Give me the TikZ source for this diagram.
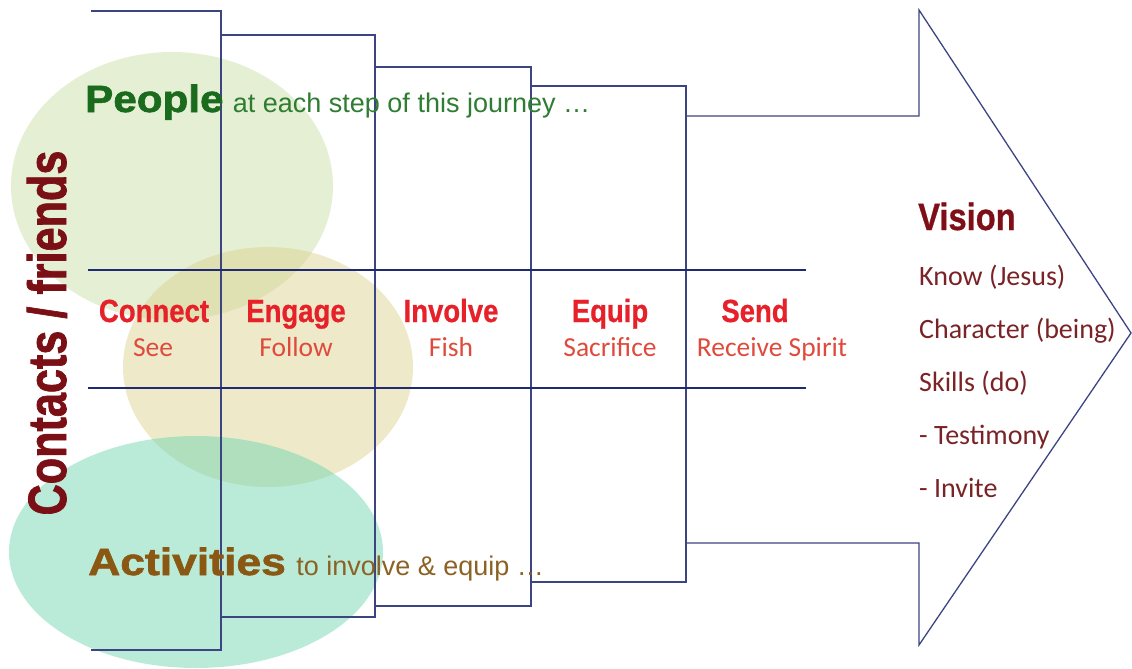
\documentclass[tikz,border=0pt]{standalone}
\usepackage{fontspec}
\usepackage{graphicx}
\setmainfont{Liberation Sans}
\newfontfamily\calfont{Carlito}
\newfontfamily\heavyfont[FakeBold=1.5]{Liberation Sans Bold}
\newfontfamily\punchfont[FakeBold=0.8]{Liberation Sans Bold}
\usetikzlibrary{positioning}
\definecolor{stepcol}{HTML}{3D4482}
\definecolor{gridcol}{HTML}{1F2A70}
\definecolor{peoplegreen}{HTML}{1B6B1E}
\definecolor{notegreen}{HTML}{2F7D32}
\definecolor{actbrown}{HTML}{8A5812}
\definecolor{notebrown}{HTML}{8C6224}
\definecolor{contactred}{HTML}{7A0F15}
\definecolor{headred}{HTML}{E6212A}
\definecolor{subred}{HTML}{DF4A3C}
\definecolor{visionred}{HTML}{7F0F17}
\definecolor{listred}{HTML}{7A2327}
\definecolor{bubgreen}{HTML}{C9DFA8}
\definecolor{bubyellow}{HTML}{DDD393}
\definecolor{bubteal}{HTML}{73D7B2}
\tikzset{
  bubble/.style={fill opacity=0.5,draw=none},
  stairline/.style={draw=stepcol,line width=1.3pt},
  rowline/.style={draw=gridcol,line width=1.2pt},
  heavy/.style={inner sep=0pt,anchor=base west,font=\heavyfont\fontsize{38}{40}\selectfont},
  note/.style={inner sep=0pt,anchor=base west,font=\fontsize{27}{30}\selectfont},
  stephead/.style={inner sep=0pt,anchor=base,text=headred,font=\punchfont\fontsize{32}{34}\selectfont},
  stepsub/.style={inner sep=0pt,anchor=base,text=subred,font=\calfont\fontsize{27.5}{30}\selectfont},
  goal/.style={inner sep=0pt,anchor=base west,text=listred,font=\calfont\fontsize{28}{30}\selectfont}
}
\begin{document}
\begin{tikzpicture}[x=1pt,y=-1pt]
\useasboundingbox (0,0) rectangle (1132,669);
\fill[bubble,bubgreen] (172,186) ellipse (161 and 134);
\fill[bubble,bubyellow] (268,367) ellipse (145 and 120);
\fill[bubble,bubteal] (196,552) ellipse (187 and 116);
\draw[stairline] (91,11)--(221,11)--(221,650)--(91,650);
\draw[stairline] (221,35)--(375,35)--(375,617)--(221,617);
\draw[stairline] (375,67)--(531,67)--(531,606)--(375,606);
\draw[stairline] (531,86)--(686,86)--(686,582)--(531,582);
\draw[stairline,line join=miter] (686,116)--(919,116)--(919,10)--(1131,333)--(919,645)--(919,543)--(686,543);
\draw[rowline] (88,270)--(806,270);
\draw[rowline] (88,388)--(806,388);
\node[heavy,text=peoplegreen] (people) at (85,112) {\scalebox{1.11}[1]{People}};
\node[note,text=notegreen,xshift=9pt] (peoplenote) at (people.base east) {at each step of this journey …};
\node[heavy,text=actbrown] (activities) at (88,575) {\scalebox{1.17}[1]{Activities}};
\node[note,text=notebrown,xshift=10pt] (activitiesnote) at (activities.base east) {to involve \& equip …};
\node[inner sep=0pt,anchor=base,rotate=90,text=contactred,font=\heavyfont\fontsize{54}{56}\selectfont] (contacts) at (66,333) {\scalebox{0.8}[1]{Contacts / friends}};
\node[stephead] (connect) at (154,322) {\scalebox{0.86}[1]{Connect}};
\node[stephead] (engage) at (296,322) {\scalebox{0.86}[1]{Engage}};
\node[stephead] (involve) at (451,322) {\scalebox{0.86}[1]{Involve}};
\node[stephead] (equip) at (610,322) {\scalebox{0.86}[1]{Equip}};
\node[stephead] (send) at (755,322) {\scalebox{0.86}[1]{Send}};
\node[stepsub] (see) at (153,356) {See};
\node[stepsub] (follow) at (296,356) {Follow};
\node[stepsub] (fish) at (451,356) {Fish};
\node[stepsub] (sacrifice) at (610,356) {Sacrifice};
\node[stepsub] (spirit) at (772,356) {Receive Spirit};
\node[inner sep=0pt,anchor=base west,text=visionred,font=\punchfont\fontsize{38}{40}\selectfont] (vision) at (918,230) {\scalebox{0.86}[1]{Vision}};
\node[goal] (know) at (919,285) {Know (Jesus)};
\node[goal] (character) at (919,338) {Character (being)};
\node[goal] (skills) at (919,391) {Skills (do)};
\node[goal] (testimony) at (919,444) {- Testimony};
\node[goal] (invite) at (919,497) {- Invite};
\end{tikzpicture}
\end{document}
